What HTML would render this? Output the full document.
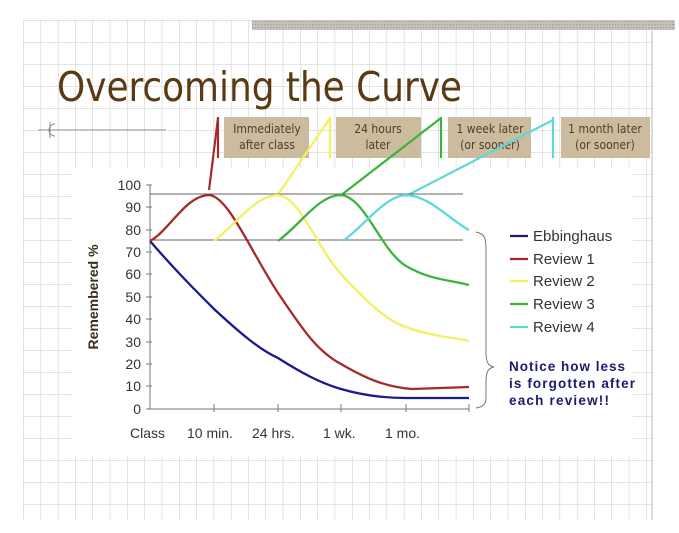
<!DOCTYPE html>
<html><head><meta charset="utf-8"><style>
html,body{margin:0;padding:0;background:#fff;}
svg{display:block;font-family:"Liberation Sans",Arial,sans-serif;}
</style></head><body>
<svg width="679" height="533" viewBox="0 0 679 533" xmlns="http://www.w3.org/2000/svg">
<defs>
<pattern id="g" x="6" y="20" width="17.3" height="22" patternUnits="userSpaceOnUse">
<path d="M0 0V22M0 0H17.3" stroke="#c8c8c8" stroke-width="1" fill="none"/>
</pattern>
<pattern id="h" width="3" height="3" patternUnits="userSpaceOnUse"><rect width="3" height="3" fill="#c8c4bc"/><rect width="1.5" height="1.5" fill="#a9a49c"/></pattern>
</defs>
<rect x="23" y="20" width="630" height="500" fill="url(#g)"/>
<line x1="652" y1="20" x2="652" y2="520" stroke="#bbb"/>
<rect x="252" y="20" width="423" height="10" fill="url(#h)"/>
<rect x="72" y="168" width="561" height="288" fill="#fff"/>
<text x="57" y="101" font-size="41" fill="#5a3a14" textLength="405" lengthAdjust="spacingAndGlyphs" font-family="'DejaVu Sans Condensed','Liberation Sans',sans-serif">Overcoming the Curve</text>
<line x1="38" y1="130" x2="166" y2="130" stroke="#888"/>
<path d="M55 124 A6 6 0 1 0 55 136" stroke="#888" fill="none"/>
<line x1="50" y1="122" x2="50" y2="138" stroke="#888"/>
<g fill="#cdbb9d">
<rect x="224" y="117" width="85" height="41"/><rect x="336" y="117" width="85" height="41"/>
<rect x="448" y="117" width="83" height="41"/><rect x="561" y="117" width="89" height="41"/>
</g>
<g font-size="12" fill="#4a4030" text-anchor="middle" font-family="'DejaVu Sans Condensed','Liberation Sans',sans-serif">
<text x="267" y="133">Immediately</text><text x="267" y="149">after class</text>
<text x="378" y="133">24 hours</text><text x="378" y="149">later</text>
<text x="490" y="133">1 week later</text><text x="490" y="149">(or sooner)</text>
<text x="605" y="133">1 month later</text><text x="605" y="149">(or sooner)</text>
</g>
<g stroke-width="2.2" fill="none">
<line x1="218" y1="117" x2="218" y2="158" stroke="#a52a2a"/>
<line x1="330" y1="117" x2="330" y2="158" stroke="#f5f060"/>
<line x1="441" y1="117" x2="441" y2="158" stroke="#3cb33c"/>
<line x1="553" y1="117" x2="553" y2="158" stroke="#5fd8d8"/>
<line x1="209" y1="190" x2="218" y2="118" stroke="#a52a2a"/>
<line x1="277" y1="196" x2="330" y2="118" stroke="#f5f060"/>
<line x1="340" y1="196" x2="441" y2="118" stroke="#3cb33c"/>
<line x1="406" y1="196" x2="553" y2="120" stroke="#5fd8d8"/>
</g>
<line x1="150" y1="194" x2="463" y2="194" stroke="#666"/>
<line x1="150" y1="240" x2="463" y2="240" stroke="#666"/>
<g stroke="#777" stroke-width="1">
<line x1="150" y1="185" x2="150" y2="409"/><line x1="150" y1="409" x2="469" y2="409"/>
<path d="M146 185h6M146 207h6M146 230h6M146 252h6M146 274h6M146 297h6M146 319h6M146 342h6M146 364h6M146 386h6M146 409h6"/>
<path d="M214 404v8M278 404v8M341 404v8M406 404v8M469 404v8"/>
</g>
<g font-size="14" fill="#333" text-anchor="end">
<text x="141" y="190">100</text><text x="141" y="212">90</text><text x="141" y="235">80</text><text x="141" y="257">70</text><text x="141" y="279">60</text><text x="141" y="302">50</text><text x="141" y="324">40</text><text x="141" y="347">30</text><text x="141" y="369">20</text><text x="141" y="391">10</text><text x="141" y="414">0</text>
</g>
<g font-size="14" fill="#333">
<text x="130" y="438">Class</text><text x="187" y="438">10 min.</text><text x="252" y="438">24 hrs.</text><text x="323" y="438">1 wk.</text><text x="385" y="438">1 mo.</text>
</g>
<text transform="translate(98 297) rotate(-90)" font-size="14" font-weight="bold" fill="#3a3020" text-anchor="middle">Remembered %</text>
<g fill="none" stroke-width="2.3">
<path d="M150 241 C175 270 195 290 214 309 C240 333 260 350 278 358 C300 372 320 383 341 389 C365 396 385 398 406 398 L469 398" stroke="#1a1a8c"/>
<path d="M150 241 C170 230 185 196 209 195 C228 196 250 250 278 293 C300 325 315 350 341 364 C365 378 385 387 412 389 L469 387" stroke="#a52a2a"/>
<path d="M214 241 C235 225 255 196 277 195 C300 196 315 245 341 274 C365 300 385 320 406 327 C430 336 450 337 469 341" stroke="#f5f060"/>
<path d="M278 241 C300 225 318 196 340 195 C365 196 380 250 406 266 C430 280 450 280 469 285" stroke="#3cb33c"/>
<path d="M343 241 C365 225 385 196 406 195 C430 196 450 220 469 230" stroke="#5fd8d8"/>
</g>
<path d="M476 232 C486 234 486 240 486 250 L486 352 C486 362 488 366 494 367 C488 368 486 372 486 382 L486 398 C486 405 482 407 476 408" fill="none" stroke="#777"/>
<g stroke-width="2.2">
<line x1="510" y1="236" x2="528" y2="236" stroke="#1a1a6e"/>
<line x1="510" y1="259" x2="528" y2="259" stroke="#a52a2a"/>
<line x1="510" y1="281" x2="528" y2="281" stroke="#f5f060"/>
<line x1="510" y1="304" x2="528" y2="304" stroke="#3cb33c"/>
<line x1="510" y1="327" x2="528" y2="327" stroke="#5fd8d8"/>
</g>
<g font-size="15" fill="#333">
<text x="533" y="241">Ebbinghaus</text><text x="533" y="264">Review 1</text><text x="533" y="286">Review 2</text><text x="533" y="309">Review 3</text><text x="533" y="332">Review 4</text>
</g>
<g font-size="13.5" font-weight="bold" fill="#1a1a70">
<text x="509" y="371" textLength="116">Notice how less</text><text x="509" y="388" textLength="126">is forgotten after</text><text x="509" y="405" textLength="100">each review!!</text>
</g>
</svg>
</body></html>
